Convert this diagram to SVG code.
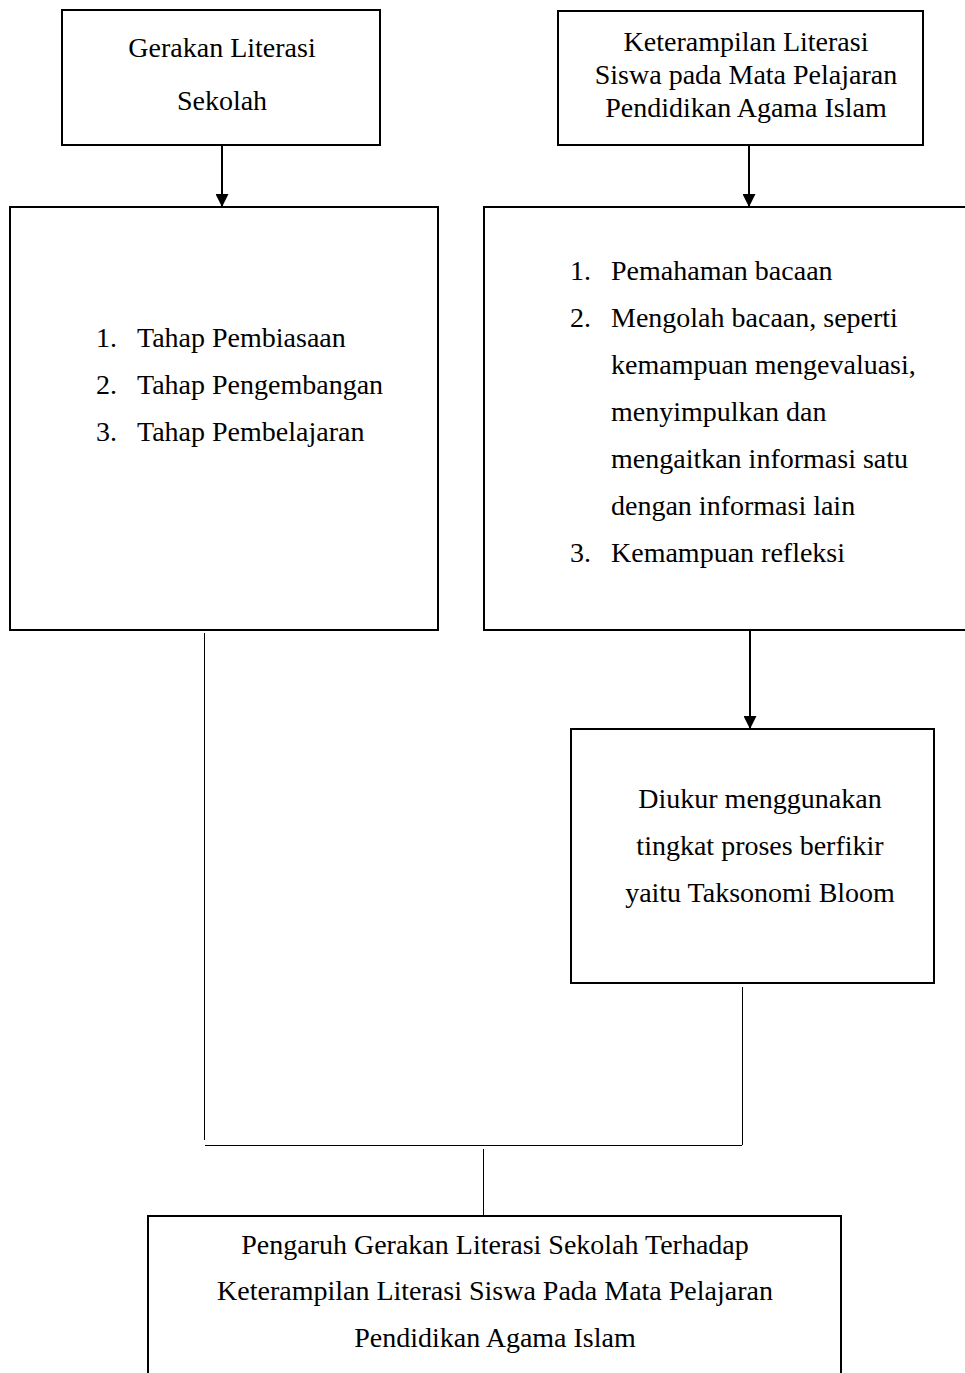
<svg xmlns="http://www.w3.org/2000/svg" width="965" height="1373" viewBox="0 0 965 1373">
<style>
.box{fill:#fff;stroke:#000;stroke-width:2}
.t{font-family:"Liberation Serif","Times New Roman",serif;font-size:28px;fill:#000}
.c{text-anchor:middle}
.arrow{stroke:#000;stroke-width:2;fill:none}
.thin{stroke:#000;stroke-width:1;fill:none}
</style>
<defs>
<marker id="ah" markerWidth="13" markerHeight="13" refX="12" refY="6" orient="auto" markerUnits="userSpaceOnUse" viewBox="0 0 12 12">
<path d="M0,0 L12,6 L0,12 Z" fill="#000"/>
</marker>
</defs>
<rect width="965" height="1373" fill="#fff"/>
<g id="connectors">
<line class="arrow" x1="222" y1="145" x2="222" y2="207" marker-end="url(#ah)"/>
<line class="arrow" x1="749" y1="145" x2="749" y2="207" marker-end="url(#ah)"/>
<line class="arrow" x1="750" y1="631" x2="750" y2="729" marker-end="url(#ah)"/>
<line class="thin" x1="204.5" y1="633" x2="204.5" y2="1140"/>
<line class="thin" x1="742.5" y1="987" x2="742.5" y2="1145"/>
<line class="thin" x1="205" y1="1145.5" x2="742" y2="1145.5"/>
<line class="thin" x1="483.5" y1="1149" x2="483.5" y2="1216"/>
</g>
<g id="node-gls">
<rect class="box" x="62" y="10" width="318" height="135"/>
<text class="t c" x="222" y="57">Gerakan Literasi</text>
<text class="t c" x="222" y="110">Sekolah</text>
</g>
<g id="node-keterampilan">
<rect class="box" x="558" y="11" width="365" height="134"/>
<text class="t c" x="746" y="51">Keterampilan Literasi</text>
<text class="t c" x="746" y="84">Siswa pada Mata Pelajaran</text>
<text class="t c" x="746" y="117">Pendidikan Agama Islam</text>
</g>
<g id="node-tahap">
<rect class="box" x="10" y="207" width="428" height="423"/>
<text class="t" x="96" y="347">1.</text><text class="t" x="137" y="347">Tahap Pembiasaan</text>
<text class="t" x="96" y="394">2.</text><text class="t" x="137" y="394">Tahap Pengembangan</text>
<text class="t" x="96" y="441">3.</text><text class="t" x="137" y="441">Tahap Pembelajaran</text>
</g>
<g id="node-indikator">
<rect class="box" x="484" y="207" width="500" height="423"/>
<text class="t" x="570" y="280">1.</text><text class="t" x="611" y="280">Pemahaman bacaan</text>
<text class="t" x="570" y="327">2.</text><text class="t" x="611" y="327">Mengolah bacaan, seperti</text>
<text class="t" x="611" y="374">kemampuan mengevaluasi,</text>
<text class="t" x="611" y="421">menyimpulkan dan</text>
<text class="t" x="611" y="468">mengaitkan informasi satu</text>
<text class="t" x="611" y="515">dengan informasi lain</text>
<text class="t" x="570" y="562">3.</text><text class="t" x="611" y="562">Kemampuan refleksi</text>
</g>
<g id="node-bloom">
<rect class="box" x="571" y="729" width="363" height="254"/>
<text class="t c" x="760" y="808">Diukur menggunakan</text>
<text class="t c" x="760" y="855">tingkat proses berfikir</text>
<text class="t c" x="760" y="902">yaitu Taksonomi Bloom</text>
</g>
<g id="node-pengaruh">
<rect class="box" x="148" y="1216" width="693" height="200"/>
<text class="t c" x="495" y="1254">Pengaruh Gerakan Literasi Sekolah Terhadap</text>
<text class="t c" x="495" y="1300">Keterampilan Literasi Siswa Pada Mata Pelajaran</text>
<text class="t c" x="495" y="1347">Pendidikan Agama Islam</text>
</g>
</svg>
